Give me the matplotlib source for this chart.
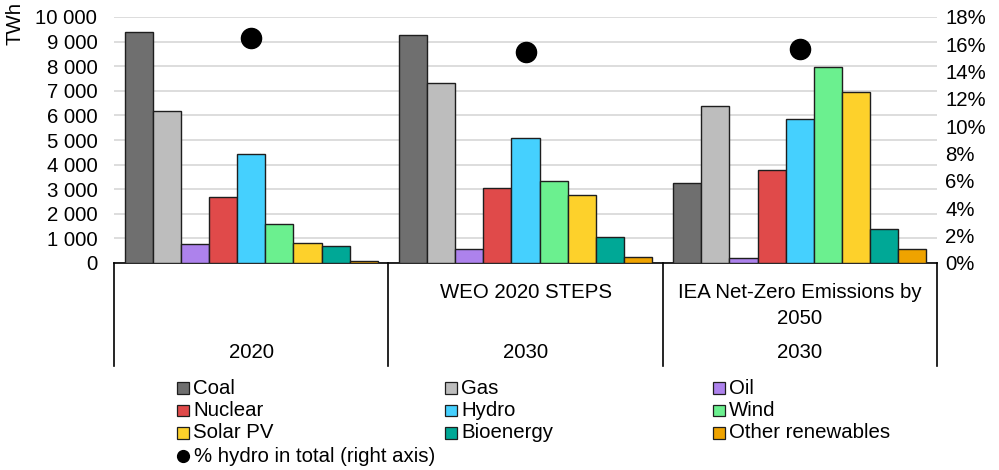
import matplotlib.pyplot as plt
from matplotlib.patches import Rectangle
from matplotlib.lines import Line2D
from matplotlib.ticker import FuncFormatter

plt.rcParams['font.family'] = ['Liberation Sans', 'DejaVu Sans']

# data
groups = ["2020", "2030", "2030"]
scenarios = [[], ["WEO 2020 STEPS"], ["IEA Net-Zero Emissions by", "2050"]]
sources = ["Coal", "Gas", "Oil", "Nuclear", "Hydro", "Wind",
           "Solar PV", "Bioenergy", "Other renewables"]
colors = ["#6f6f6f", "#bdbdbd", "#ad82ec", "#e04a4a", "#45d0fe",
          "#6bf08f", "#fdd12b", "#00a896", "#efa300"]
values = [
    [9400, 6180, 760, 2700, 4430, 1585, 815, 705, 70],      # 2020
    [9280, 7320, 570, 3065, 5095, 3350, 2750, 1055, 255],   # 2030 STEPS
    [3240, 6380, 200, 3780, 5865, 7980, 6950, 1395, 570],   # 2030 NZE
]
hydro_share = [16.45, 15.45, 15.65]

W, H = 999, 470
fig = plt.figure(figsize=(W / 100, H / 100), dpi=100)
ax = fig.add_axes([114 / W, 1 - 263 / H, (937 - 114) / W, (263 - 17) / H])
ax2 = ax.twinx()

fs = 14.7
bw = 0.1026
for g in range(len(groups)):
    for i, v in enumerate(values[g]):
        ax.bar(g + (i - 4) * bw, v, width=bw, color=colors[i],
               edgecolor="#1e1e1e", linewidth=1.0, zorder=3)

ax2.plot(range(len(groups)), hydro_share, "o", color="black", ms=14.5,
         zorder=5)

ax.set_xlim(-0.5, 2.5)
ax.set_ylim(0, 10000)
ax.set_yticks(range(0, 10001, 1000))
ax.yaxis.set_major_formatter(
    FuncFormatter(lambda v, p: f"{int(v):,}".replace(",", " ")))
ax.grid(axis="y", color="#dadada", linewidth=1.3, zorder=0)
ax.set_xticks([])
ax.tick_params(axis="y", length=0, pad=12, labelsize=fs)

ax2.set_ylim(0, 18)
ax2.set_yticks(range(0, 19, 2))
ax2.set_yticklabels([f"{t}%" for t in range(0, 19, 2)])
ax2.tick_params(axis="y", length=0, pad=6, labelsize=fs)

for a in (ax, ax2):
    for s in ("left", "right", "top"):
        a.spines[s].set_visible(False)
ax.spines["bottom"].set_color("black")
ax.spines["bottom"].set_linewidth(1.2)
ax2.spines["bottom"].set_visible(False)

fig.text(15 / W, 1 - 2 / H, "TWh", rotation=90, ha="center", va="top",
         fontsize=fs)

# category table below the axis
xt = ax.get_xaxis_transform()
ah = 263 - 17
depth = (366 - 263) / ah
for x in [-0.5, 0.5, 1.5, 2.5]:
    ax.plot([x, x], [0, -depth], color="black", lw=1.2, transform=xt,
            clip_on=False)
for g in range(len(groups)):
    for j, line in enumerate(scenarios[g]):
        ax.text(g, -(292 + 26 * j - 263) / ah, line, transform=xt,
                ha="center", va="center", fontsize=fs)
    ax.text(g, -(353 - 263) / ah, groups[g], transform=xt, ha="center",
            va="center", fontsize=fs)


# legend drawn by hand to match the reference grid
def px(x, y):
    return x / W, 1 - y / H


col_x = [177, 445, 713]
row_y = [388, 410.5, 433, 456]
sq = 11.5
for k, name in enumerate(sources):
    r, c = divmod(k, 3)
    x0, y0 = px(col_x[c], row_y[r] + sq / 2)
    fig.add_artist(Rectangle((x0, y0), sq / W, sq / H,
                             transform=fig.transFigure,
                             facecolor=colors[k], edgecolor="#1e1e1e",
                             linewidth=0.9))
    fig.text(*px(col_x[c] + 16, row_y[r]), name, ha="left", va="center",
             fontsize=fs)
fig.add_artist(Line2D([px(183, 0)[0]], [px(0, row_y[3])[1]], marker="o",
                      color="black", ms=8.5, transform=fig.transFigure))
fig.text(*px(194, row_y[3]), "% hydro in total (right axis)", ha="left",
         va="center", fontsize=fs)

fig.savefig("out.png", dpi=100)
